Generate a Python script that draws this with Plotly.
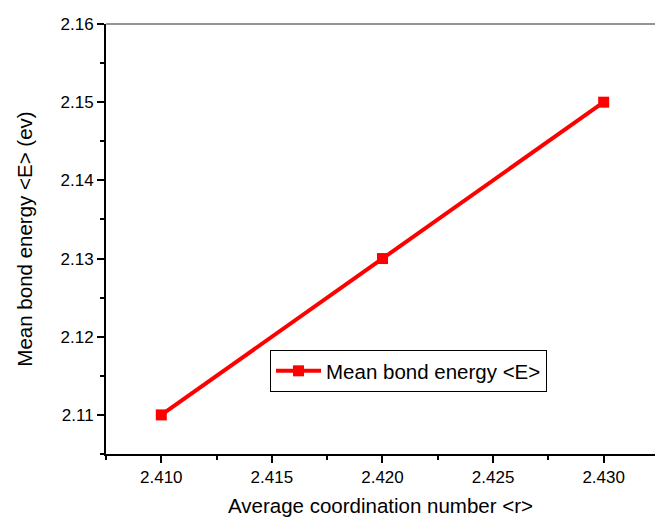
import plotly.graph_objects as go

coord_number = [2.410, 2.420, 2.430]
mean_bond_energy = [2.11, 2.13, 2.15]
series_name = "Mean bond energy &lt;E&gt;"

W, H = 655, 519
ml, mr, mt, mb = 106, 0, 24, 65
FONT = "Liberation Sans, Arial"

fig = go.Figure()
fig.add_trace(go.Scatter(
    x=coord_number, y=mean_bond_energy, mode="lines+markers",
    name=series_name,
    line=dict(color="#ff0000", width=4),
    marker=dict(symbol="square", size=11, color="#ff0000"),
))

axis_common = dict(
    showgrid=False, zeroline=False, showline=True, linecolor="black", linewidth=2,
    ticks="outside", ticklen=7, tickwidth=1.5, tickcolor="black",
    tickfont=dict(family=FONT, size=17, color="black"),
    mirror=False,
)

fig.update_layout(
    width=W, height=H,
    margin=dict(l=ml, r=mr, t=mt, b=mb),
    paper_bgcolor="white", plot_bgcolor="white",
    font=dict(family=FONT, color="black"),
    xaxis=dict(
        range=[2.4075, 2.43232], dtick=0.005, tick0=2.41, tickformat=".3f",
        minor=dict(dtick=0.0025, tick0=2.41, ticks="outside", ticklen=4, tickcolor="black", tickwidth=1.5),
        title=dict(text="Average coordination number &lt;r&gt;", font=dict(size=20.5), standoff=12),
        **axis_common,
    ),
    yaxis=dict(
        range=[2.105, 2.16], dtick=0.01, tick0=2.11, tickformat=".2f",
        minor=dict(dtick=0.005, tick0=2.11, ticks="outside", ticklen=4, tickcolor="black", tickwidth=1.5),
        title=dict(text="Mean bond energy &lt;E&gt; (ev)", font=dict(size=20.5), standoff=22),
        **axis_common,
    ),
    showlegend=True,
    legend=dict(
        x=(270 - ml) / (W - ml - mr), y=(H - mb - 350) / (H - mb - mt),
        xanchor="left", yanchor="top",
        bgcolor="white", bordercolor="black", borderwidth=1,
        font=dict(family=FONT, size=20.5, color="black"),
        itemwidth=45, tracegroupgap=0,
    ),
    shapes=[dict(type="line", xref="paper", yref="paper", x0=0, x1=1, y0=1, y1=1,
                 line=dict(color="#707070", width=1.5))],
)

fig.write_html("out.html")
